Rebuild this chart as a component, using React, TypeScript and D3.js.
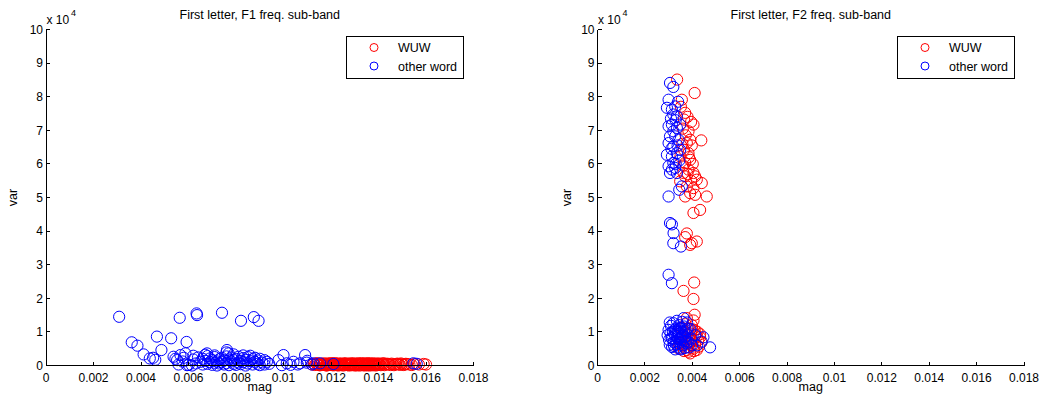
import React from "react";
import * as d3 from "d3";

// ---------- data ----------
const seriesNames = ["WUW", "other word"];
const seriesColors = ["#ff0000", "#0000ff"];
const titles = ["First letter, F1 freq. sub-band", "First letter, F2 freq. sub-band"];
const xTicks = [0, 0.002, 0.004, 0.006, 0.008, 0.01, 0.012, 0.014, 0.016, 0.018];
const yTicks = [0, 10000, 20000, 30000, 40000, 50000, 60000, 70000, 80000, 90000, 100000];

// F1 panel, WUW  [mag, var]
const f1Wuw: [number, number][] = [
  [0.0112, 300], [0.0114, 500], [0.0115, 150], [0.0116, 450], [0.0117, 250], [0.0118, 50], [0.01185, 500], [0.0119, 600],
  [0.01195, 200], [0.0120, 450], [0.01205, 100], [0.0121, 350], [0.01215, 600], [0.0122, 250], [0.01225, 500], [0.0123, 0],
  [0.01235, 550], [0.0124, 300], [0.01245, 150], [0.0125, 450], [0.01255, 600], [0.0126, 250], [0.01265, 400], [0.0127, 100],
  [0.01275, 550], [0.0128, 350], [0.01285, 150], [0.0129, 500], [0.01295, 50], [0.0130, 300], [0.01305, 600], [0.0131, 450],
  [0.01315, 150], [0.0132, 400], [0.01325, 600], [0.0133, 200], [0.01335, 500], [0.0134, 0], [0.01345, 350], [0.0135, 550],
  [0.01355, 250], [0.0136, 450], [0.01365, 100], [0.0137, 550], [0.01375, 300], [0.0138, 150], [0.01385, 500], [0.0139, 350],
  [0.0140, 600], [0.0141, 100], [0.0142, 400], [0.0143, 250], [0.0144, 500], [0.0145, 150], [0.0146, 400],
  [0.0147, 300], [0.0148, 550], [0.0149, 200], [0.0150, 400], [0.0151, 250], [0.0152, 450], [0.0153, 300],
  [0.0154, 150], [0.0155, 400], [0.0157, 300], [0.0160, 300],
  [0.01132, 150], [0.01138, 600], [0.01147, 350], [0.01153, 50], [0.01162, 550], [0.01168, 200], [0.01173, 650], [0.01178, 350],
  [0.01182, 0], [0.01188, 250], [0.01192, 450], [0.01198, 650], [0.01202, 300], [0.01208, 550], [0.01212, 50], [0.01218, 400],
  [0.01222, 650], [0.01228, 150], [0.01232, 350], [0.01238, 100], [0.01242, 600], [0.01248, 400], [0.01252, 0], [0.01258, 300],
  [0.01262, 650], [0.01268, 150], [0.01272, 450], [0.01278, 0], [0.01282, 600], [0.01288, 300], [0.01292, 650], [0.01298, 400],
  [0.01302, 100], [0.01308, 500], [0.01312, 250], [0.01318, 650], [0.01322, 0], [0.01328, 350], [0.01332, 600], [0.01338, 150],
  [0.01342, 650], [0.01348, 100], [0.01352, 450], [0.01358, 0], [0.01362, 600], [0.01368, 300], [0.01372, 50], [0.01378, 650],
  [0.01382, 350], [0.01388, 0], [0.01392, 550], [0.01398, 200], [0.01405, 450], [0.01415, 600], [0.01425, 100], [0.01435, 500],
  [0.01445, 300], [0.01455, 550], [0.01465, 100], [0.01475, 450], [0.01485, 350], [0.01495, 600], [0.01505, 150], [0.01515, 500],
  [0.01128, 450], [0.01143, 650], [0.01157, 300], [0.01183, 150], [0.01207, 650], [0.01233, 200], [0.01257, 450], [0.01283, 250],
  [0.01307, 0], [0.01333, 450], [0.01357, 650], [0.01383, 250], [0.01403, 200], [0.01423, 650], [0.0159, 450],
];

// F1 panel, other word
const f1Other: [number, number][] = [
  [0.00308, 14500], [0.00361, 6900], [0.00385, 5900], [0.00411, 3300], [0.00437, 2100], [0.00451, 2300], [0.0046, 1700],
  [0.00467, 8600], [0.00486, 4600], [0.00527, 8100], [0.00563, 14200], [0.00592, 7000], [0.00634, 15500], [0.00636, 15000],
  [0.00741, 15700], [0.00821, 13300], [0.00875, 14400], [0.00895, 13300],
  [0.00537, 2600], [0.00552, 1600], [0.00566, 3100], [0.00587, 3600], [0.00601, 200], [0.00558, 300], [0.00545, 2000],
  [0.00575, 1200], [0.00594, 100], [0.00615, 0], [0.0058, 2300], [0.0062, 2900],
  [0.00678, 3600], [0.00762, 4600], [0.00769, 3600],
  [0.0062, 1800], [0.0063, 600], [0.0064, 2400], [0.0065, 1100], [0.0066, 300], [0.0066, 2000], [0.0067, 1400], [0.0068, 500],
  [0.0068, 2800], [0.0069, 1000], [0.0069, 2100], [0.0070, 200], [0.0070, 1600], [0.0071, 800], [0.0071, 2500], [0.0072, 1200],
  [0.0072, 0], [0.0073, 1900], [0.0073, 600], [0.0074, 2300], [0.0074, 1000], [0.0075, 300], [0.0075, 1500], [0.0076, 2700],
  [0.0076, 700], [0.0077, 1800], [0.0077, 100], [0.0078, 1200], [0.0078, 2400], [0.0079, 500], [0.0079, 1600], [0.0080, 2000],
  [0.0080, 200], [0.0081, 900], [0.0081, 2600], [0.0082, 1400], [0.0082, 400], [0.0083, 2200], [0.0083, 1000], [0.0084, 0],
  [0.0084, 1700], [0.0085, 2500], [0.0085, 600], [0.0086, 1300], [0.0086, 2900], [0.0087, 300], [0.0087, 1900], [0.0088, 1100],
  [0.0088, 2300], [0.0089, 500], [0.0089, 1500], [0.0090, 2000], [0.0090, 100], [0.0091, 900], [0.0092, 1600], [0.0092, 300],
  [0.0093, 1100], [0.0094, 500], [0.0067, 3200], [0.0071, 3000], [0.0079, 3300], [0.0083, 3000], [0.0076, 3900],
  [0.00979, 1600], [0.0100, 3100], [0.00993, 100], [0.01014, 650], [0.01042, 1100], [0.0107, 650], [0.01091, 3100],
  [0.01098, 850], [0.01126, 650], [0.01154, 650], [0.0121, 450], [0.0103, 200], [0.0106, 300], [0.0110, 1400], [0.0112, 300],
  [0.01547, 650], [0.01561, 500],
];

// F2 panel, WUW
const f2Wuw: [number, number][] = [
  [0.00336, 85100], [0.0041, 81100], [0.00356, 79100], [0.0037, 75200], [0.00365, 73200], [0.00405, 71700], [0.00384, 69700],
  [0.00438, 67000], [0.00377, 66200], [0.00391, 67200], [0.00365, 64200], [0.00384, 63200], [0.0035, 62200], [0.0037, 60300],
  [0.00391, 61200], [0.00384, 58300], [0.00405, 57300], [0.0037, 56300], [0.00419, 55300], [0.00349, 54800], [0.00377, 53300],
  [0.00405, 52800], [0.0044, 54300], [0.00461, 50300], [0.00412, 50800], [0.0037, 50300], [0.00391, 51300], [0.00363, 57300],
  [0.00412, 56300], [0.00433, 46300], [0.00405, 45400],
  [0.00352, 77000], [0.0038, 74000], [0.00395, 72500], [0.0036, 70500], [0.00372, 68500], [0.00398, 65500], [0.00358, 66000],
  [0.00386, 62000], [0.00402, 60000], [0.00362, 59500], [0.0038, 57000], [0.00395, 55000],
  [0.00377, 39300], [0.0037, 38200], [0.00398, 36400], [0.00419, 36900], [0.00391, 35900],
  [0.00408, 24700], [0.00363, 22200], [0.00405, 19800], [0.0041, 15100],
  [0.00377, 14100], [0.00405, 13400], [0.00419, 8600], [0.00433, 8400], [0.00425, 7600], [0.00419, 4600], [0.00377, 4600],
  [0.00342, 5100], [0.00391, 3600], [0.00384, 4100], [0.00398, 12000], [0.00385, 11000], [0.0041, 10500], [0.00395, 9500],
  [0.00372, 10000], [0.0036, 9000], [0.00415, 9200], [0.00388, 8000], [0.00402, 7200], [0.0037, 7500], [0.00355, 7000],
  [0.00412, 6300], [0.00395, 6000], [0.0038, 5500], [0.00362, 6200], [0.00348, 8200], [0.00428, 5600], [0.00405, 5000],
  [0.0039, 6800], [0.00372, 12300], [0.00356, 11200], [0.004, 10800], [0.00422, 10000], [0.00345, 6500], [0.00365, 4300],
  [0.00408, 4300], [0.00438, 6800], [0.00433, 9300],
];

// F2 panel, other word
const f2Other: [number, number][] = [
  [0.00306, 84100], [0.0032, 82900], [0.003, 79100], [0.00293, 76700], [0.00314, 76200], [0.00328, 77100], [0.0032, 74700],
  [0.00335, 74200], [0.003, 71200], [0.00314, 71700], [0.0032, 69700], [0.00335, 70700], [0.00349, 71700], [0.00306, 68200],
  [0.00328, 68200], [0.00342, 67200], [0.003, 66200], [0.0032, 65200], [0.00293, 62700], [0.00314, 62200], [0.00335, 63200],
  [0.00349, 64200], [0.0032, 60300], [0.003, 59300], [0.00314, 58300], [0.00328, 58800], [0.00306, 57300], [0.00335, 57300],
  [0.00356, 53300], [0.003, 50300], [0.0034, 78500], [0.0033, 73000], [0.0031, 73500], [0.00338, 65500], [0.00312, 64500],
  [0.00345, 61000], [0.0033, 60000], [0.00345, 52300],
  [0.00306, 42400], [0.00314, 42000], [0.00321, 39400], [0.0032, 36400], [0.00352, 35400], [0.003, 27000], [0.00314, 24500],
  [0.003, 10600], [0.00296, 9000], [0.00302, 7600], [0.00305, 6200], [0.0031, 11800], [0.00312, 8200], [0.00315, 5500],
  [0.00318, 10000], [0.0032, 12600], [0.00322, 7000], [0.00325, 9200], [0.00328, 4800], [0.0033, 11000], [0.00332, 6400],
  [0.00335, 13300], [0.00336, 8600], [0.00338, 10200], [0.0034, 5600], [0.00342, 7800], [0.00344, 12000], [0.00345, 9400],
  [0.00348, 6800], [0.0035, 11200], [0.00352, 4800], [0.00354, 8400], [0.00356, 10000], [0.00358, 13000], [0.0036, 6000],
  [0.00362, 9000], [0.00364, 7400], [0.00366, 11600], [0.00368, 5200], [0.0037, 8600], [0.00372, 10400], [0.00375, 6600],
  [0.00378, 12800], [0.0038, 9200], [0.00384, 7000], [0.00388, 5400], [0.00392, 10800], [0.00396, 8000], [0.004, 6000],
  [0.00305, 12800], [0.00308, 9600], [0.00315, 8000], [0.00326, 10600], [0.00333, 7200], [0.0034, 9800], [0.00346, 11000],
  [0.00352, 7600], [0.00358, 8800], [0.00365, 10400], [0.00372, 7200], [0.0038, 11000], [0.00323, 5800], [0.00347, 5000],
  [0.00363, 14100], [0.00447, 8400], [0.0044, 7100], [0.00475, 5400], [0.0042, 6000], [0.00412, 9000],
];

const panelSeries = [
  [f1Wuw, f1Other],
  [f2Wuw, f2Other],
];

// ---------- layout ----------
const W = 1044;
const H = 403;
const panels = [
  { x0: 46, x1: 473.5, labelX: 13, legendX: 346.5 },
  { x0: 597.5, x1: 1024, labelX: 566.5, legendX: 897.5 },
];
const yTop = 29.5;
const yBot = 365.5;
const FONT = "'Liberation Sans', Arial, Helvetica, sans-serif";

function Panel({ idx }: { idx: number }) {
  const p = panels[idx];
  const x = d3.scaleLinear().domain([0, 0.018]).range([p.x0, p.x1]);
  const y = d3.scaleLinear().domain([0, 100000]).range([yBot, yTop]);
  const cx = (p.x0 + p.x1) / 2;
  const fmtX = (v: number) => (v === 0 ? "0" : String(+v.toFixed(3)));
  const fmtY = (v: number) => String(v / 10000);
  return (
    <g>
      {panelSeries[idx].map((pts, si) => (
        <g key={si} fill="none" stroke={seriesColors[si]} strokeWidth={1}>
          {pts.map((d, i) => (
            <circle key={i} cx={x(d[0])} cy={y(d[1])} r={5.6} />
          ))}
        </g>
      ))}
      <g stroke="#000" strokeWidth={1} shapeRendering="crispEdges">
        <line x1={p.x0} x2={p.x0} y1={yTop} y2={yBot} />
        <line x1={p.x0} x2={p.x1} y1={yBot} y2={yBot} />
        {xTicks.map((t) => (
          <line key={"xt" + t} x1={x(t)} x2={x(t)} y1={yBot} y2={yBot - 4} />
        ))}
        {yTicks.map((t) => (
          <line key={"yt" + t} x1={p.x0} x2={p.x0 + 4} y1={y(t)} y2={y(t)} />
        ))}
      </g>
      <g fontFamily={FONT} fontSize={12} fill="#000">
        {xTicks.map((t) => (
          <text key={"xl" + t} x={x(t)} y={yBot + 16} textAnchor="middle">
            {fmtX(t)}
          </text>
        ))}
        {yTicks.map((t) => (
          <text key={"yl" + t} x={p.x0 - 3} y={y(t) + 4.2} textAnchor="end">
            {fmtY(t)}
          </text>
        ))}
        <text x={p.x0 + 0.5} y={23.5}>
          x 10
        </text>
        <text x={p.x0 + 25} y={16} fontSize={9}>
          4
        </text>
        <text x={cx} y={18.5} textAnchor="middle" fontSize={12.5}>
          {titles[idx]}
        </text>
        <text x={cx} y={391} textAnchor="middle" fontSize={12.5}>
          mag
        </text>
        <text
          transform={`translate(${p.labelX},${(yTop + yBot) / 2}) rotate(-90)`}
          dy="0.35em"
          textAnchor="middle"
          fontSize={12.5}
        >
          var
        </text>
      </g>
      <g>
        <rect x={p.legendX} y={36} width={116.5} height={42} fill="#fff" stroke="#000" strokeWidth={1} shapeRendering="crispEdges" />
        {seriesNames.map((n, si) => (
          <g key={n}>
            <circle cx={p.legendX + 27.5} cy={47.5 + si * 18.5} r={4} fill="none" stroke={seriesColors[si]} strokeWidth={1} />
            <text x={p.legendX + 51.5} y={47.5 + si * 18.5 + 4.5} fontFamily={FONT} fontSize={12.5} fill="#000">
              {n}
            </text>
          </g>
        ))}
      </g>
    </g>
  );
}

export default function App() {
  return (
    <svg
      width={W}
      height={H}
      viewBox={`0 0 ${W} ${H}`}
      style={{ position: "absolute", left: 0, top: 0, background: "#fff" }}
    >
      <rect width={W} height={H} fill="#fff" />
      <Panel idx={0} />
      <Panel idx={1} />
    </svg>
  );
}
